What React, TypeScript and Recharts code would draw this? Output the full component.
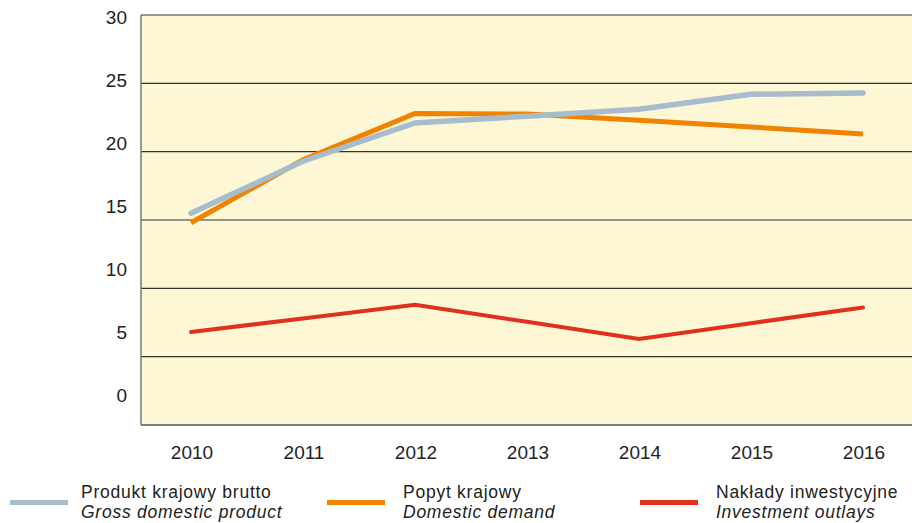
import React from "react";
import { CartesianGrid, Line, LineChart, XAxis, YAxis } from "recharts";

const years = ["2010", "2011", "2012", "2013", "2014", "2015", "2016"];
const gdp = [15.5, 19.3, 22.1, 22.6, 23.1, 24.2, 24.3];
const domesticDemand = [14.8, 19.4, 22.8, 22.75, 22.3, 21.8, 21.3];
const investment = [6.8, 7.8, 8.8, 7.55, 6.3, 7.45, 8.6];
const yTicks = [0, 5, 10, 15, 20, 25, 30];

const legendItems = [
  { pl: "Produkt krajowy brutto", en: "Gross domestic product", color: "#a7bdcc" },
  { pl: "Popyt krajowy", en: "Domestic demand", color: "#f08300" },
  { pl: "Nakłady inwestycyjne", en: "Investment outlays", color: "#e0301e" },
];

const font = "'Liberation Sans', Arial, sans-serif";

const chartData = years.map((year, i) => ({
  year,
  gdp: gdp[i],
  demand: domesticDemand[i],
  investment: investment[i],
}));

function YTick({ y, payload }: any) {
  // labels in the original drift upward relative to the gridlines
  const shift = 2.5 - (30 - payload.value) * 1.08;
  return (
    <text x={127} y={y + shift} textAnchor="end" dominantBaseline="central" fontSize={19} fill="#222" fontFamily={font}>
      {payload.value}
    </text>
  );
}

function XTick({ x, payload }: any) {
  return (
    <text x={x + 1} y={452} textAnchor="middle" dominantBaseline="central" fontSize={19} fill="#222" fontFamily={font}>
      {payload.value}
    </text>
  );
}

const legendPos = [
  { line: 10, text: 81 },
  { line: 327, text: 403 },
  { line: 640, text: 716 },
];

const legendText: React.CSSProperties = {
  position: "absolute",
  fontFamily: font,
  fontSize: 17.5,
  letterSpacing: 0.75,
  lineHeight: "20px",
  height: 20,
  color: "#222",
  whiteSpace: "nowrap",
};

export default function App() {
  return (
    <div style={{ position: "absolute", left: 0, top: 0, width: 912, height: 523, background: "#fff", overflow: "hidden" }}>
      <LineChart width={912} height={523} data={chartData} margin={{ top: 15, right: 0, left: 0, bottom: 0 }}>
        <CartesianGrid vertical={false} stroke="#333" strokeWidth={1.2} fill="#fef7d6" />
        <XAxis
          dataKey="year"
          height={98}
          padding={{ left: 50, right: 49 }}
          axisLine={{ stroke: "#777", strokeWidth: 1.5 }}
          tickLine={false}
          tick={<XTick />}
          interval={0}
        />
        <YAxis
          width={141}
          domain={[0, 30]}
          ticks={yTicks}
          axisLine={{ stroke: "#777", strokeWidth: 1.5 }}
          tickLine={false}
          tick={<YTick />}
        />
        <Line dataKey="demand" stroke="#f08300" strokeWidth={5} dot={false} strokeLinecap="butt" isAnimationActive={false} />
        <Line dataKey="gdp" stroke="#a7bdcc" strokeWidth={5.5} dot={false} strokeLinecap="round" isAnimationActive={false} />
        <Line dataKey="investment" stroke="#e0301e" strokeWidth={4} dot={false} strokeLinecap="round" isAnimationActive={false} />
      </LineChart>
      {legendItems.map((item, i) => (
        <div key={item.pl}>
          <div
            style={{
              position: "absolute",
              left: legendPos[i].line,
              top: 500,
              width: 58,
              height: 5,
              background: item.color,
            }}
          />
          <div style={{ ...legendText, left: legendPos[i].text, top: 482 }}>{item.pl}</div>
          <div style={{ ...legendText, left: legendPos[i].text, top: 502, fontStyle: "italic" }}>{item.en}</div>
        </div>
      ))}
    </div>
  );
}
